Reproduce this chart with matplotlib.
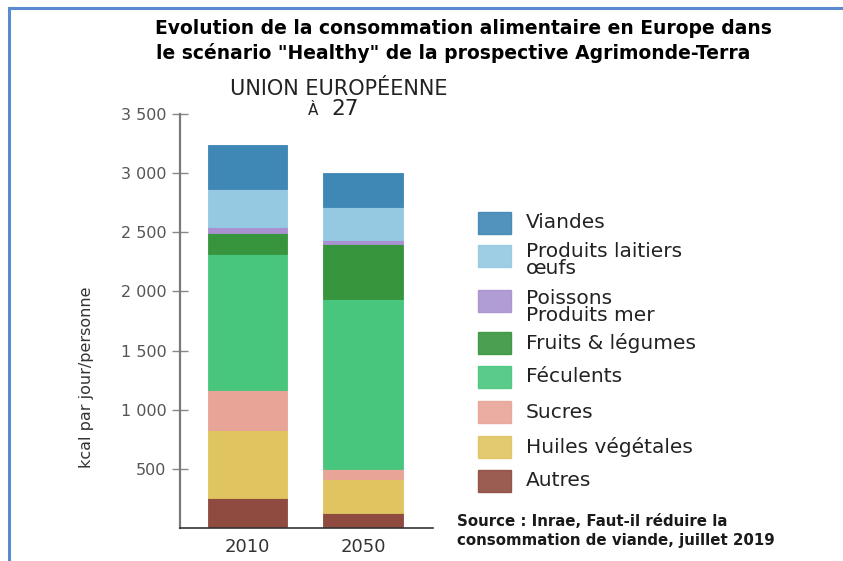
import matplotlib
matplotlib.use("Agg")
import matplotlib.pyplot as plt
from matplotlib.patches import Rectangle
from matplotlib.lines import Line2D

# données (kcal/jour/personne)
years = ["2010", "2050"]
categories = ["Autres", "Huiles végétales", "Sucres", "Féculents",
              "Fruits & légumes", "Poissons\nProduits mer",
              "Produits laitiers\nœufs", "Viandes"]
values_2010 = [250, 575, 340, 1150, 175, 55, 325, 365]
values_2050 = [125, 290, 80, 1440, 465, 35, 280, 285]
colors = ["#8F4B3F", "#E0C45F", "#E8A497", "#49C67E",
          "#37953D", "#A992D1", "#94C9E1", "#3F87B4"]
yticks = [500, 1000, 1500, 2000, 2500, 3000, 3500]
ytick_labels = ["500", "1 000", "1 500", "2 000", "2 500", "3 000", "3 500"]

W, H = 843, 561


def fx(x):
    return x / W


def fy(y):
    return 1 - y / H


fig = plt.figure(figsize=(W / 100, H / 100), dpi=100)

# cadre bleu (haut et gauche)
fig.add_artist(Line2D([fx(9), fx(9)], [fy(8), fy(561)], color="#5B8AD0", lw=2.2))
fig.add_artist(Line2D([fx(9), fx(843)], [fy(8), fy(8)], color="#5B8AD0", lw=2.2))

ax = fig.add_axes([fx(180), fy(528), fx(433) - fx(180), fy(114) - fy(528)])

series = [values_2010, values_2050]
bottoms = [0, 0]
for i, cat in enumerate(categories):
    vals = [s[i] for s in series]
    ax.bar([0, 1], vals, bottom=bottoms, width=0.69, color=colors[i],
           edgecolor=colors[i], linewidth=0.6)
    bottoms = [b + v for b, v in zip(bottoms, vals)]

ax.set_xlim(-0.587, 1.607)
ax.set_ylim(0, 3500)
ax.set_xticks([0, 1])
ax.set_xticklabels(years, fontsize=13, color="#333333")
ax.tick_params(axis="x", length=0, pad=7)
ax.set_yticks(yticks)
ax.set_yticklabels(ytick_labels, fontsize=11.5, color="#555555")
ax.tick_params(axis="y", direction="inout", length=11.5, width=1,
               color="#888888", pad=4)
for s in ["top", "right"]:
    ax.spines[s].set_visible(False)
ax.spines["left"].set_color("#7A7A7A")
ax.spines["left"].set_linewidth(1.6)
ax.spines["bottom"].set_color("#333333")
ax.spines["bottom"].set_linewidth(1.2)

fig.text(fx(86), fy(377), "kcal par jour/personne", rotation=90,
         ha="center", va="center", fontsize=11.5, color="#333333")

# titres
fig.text(fx(463), fy(29), "Evolution de la consommation alimentaire en Europe dans",
         ha="center", va="center", fontsize=13.5, fontweight="bold")
fig.text(fx(453), fy(53), 'le scénario "Healthy" de la prospective Agrimonde-Terra',
         ha="center", va="center", fontsize=13.5, fontweight="bold")
fig.text(fx(339), fy(95), "UNION EUROPÉENNE", ha="center", va="baseline",
         fontsize=15, color="#222222")
fig.text(fx(318), fy(115), "À", ha="right", va="baseline", fontsize=11,
         color="#222222")
fig.text(fx(331), fy(115), "27", ha="left", va="baseline", fontsize=15.5,
         color="#222222")

# légende
leg_rows = [223, 256, 301, 343, 377, 412, 447, 481]
text_rows = [223, 260, 307, 343, 377, 412, 447, 481]
for k, i in enumerate(range(len(categories) - 1, -1, -1)):
    row = leg_rows[k]
    fig.add_artist(Rectangle((fx(478), fy(row + 11)), fx(33), fy(row - 11) - fy(row + 11),
                             facecolor=colors[i], edgecolor=colors[i], alpha=0.9))
    fig.text(fx(526), fy(text_rows[k]), categories[i], ha="left", va="center",
             fontsize=14.5, color="#222222", linespacing=0.85)

fig.text(fx(457), fy(522), "Source : Inrae, Faut-il réduire la", ha="left",
         va="center", fontsize=10.8, fontweight="bold", color="#1a1a1a")
fig.text(fx(457), fy(540), "consommation de viande, juillet 2019", ha="left",
         va="center", fontsize=10.8, fontweight="bold", color="#1a1a1a")

fig.savefig("out.png", dpi=100)
